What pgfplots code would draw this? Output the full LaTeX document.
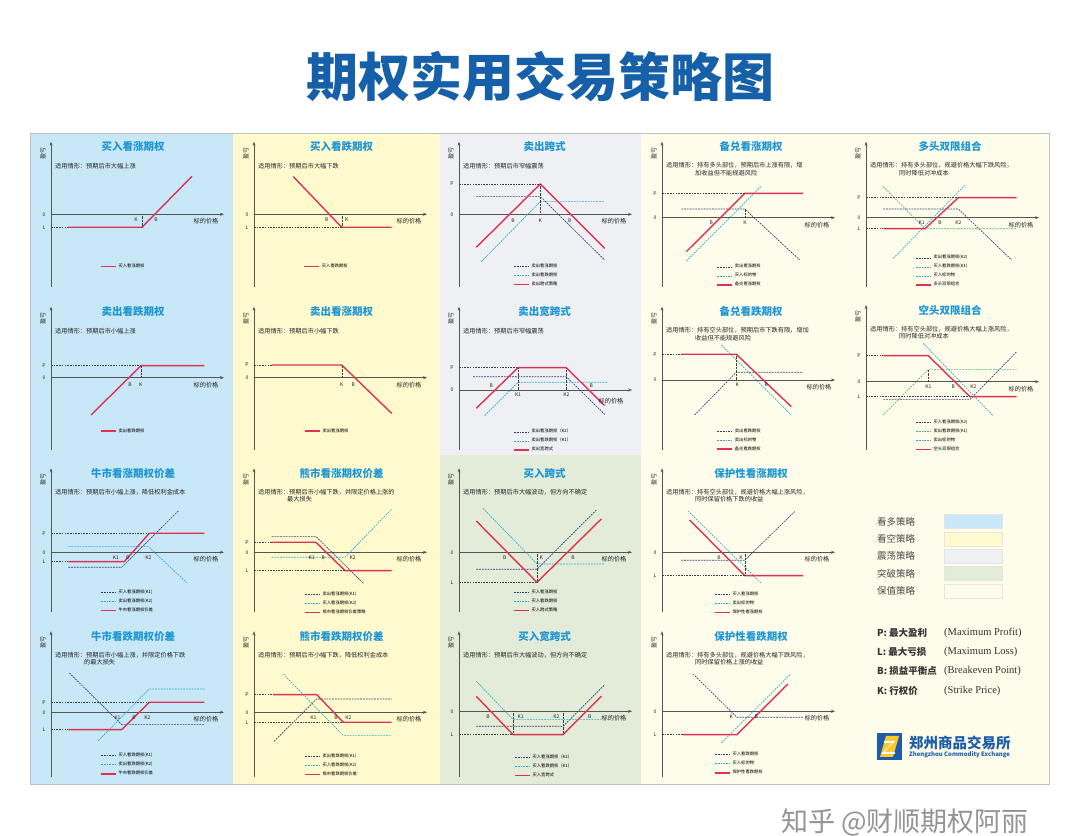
\documentclass[border=0pt]{standalone}
\usepackage{fontspec}
\setmainfont{Noto Sans CJK SC}
\newfontfamily\enserif{Liberation Serif}
\usepackage{pgfplots}
\pgfplotsset{compat=1.18}
\usetikzlibrary{arrows.meta}

\definecolor{bgblue}{RGB}{200,231,247}
\definecolor{bgyellow}{RGB}{255,249,206}
\definecolor{bggray}{RGB}{238,240,244}
\definecolor{bggreen}{RGB}{226,236,216}
\definecolor{bgcream}{RGB}{254,252,234}
\definecolor{ttlc}{RGB}{30,150,212}
\definecolor{mainttl}{RGB}{22,96,170}
\definecolor{redc}{RGB}{222,50,85}
\definecolor{navyc}{RGB}{40,62,120}
\definecolor{lbluec}{RGB}{40,172,212}
\definecolor{greenc}{RGB}{80,175,120}
\definecolor{axc}{RGB}{85,85,85}
\definecolor{logob}{RGB}{28,92,170}
\definecolor{logoy}{RGB}{250,200,40}

\newcommand\ttlfont{\fontsize{10.5}{11}\selectfont\bfseries}
\newcommand\descfont{\fontsize{6.2}{7}\selectfont}
\newcommand\legfont{\fontsize{4.3}{5}\selectfont}
\newcommand\lblfont{\fontsize{5}{6}\selectfont}
\newcommand\ylabfont{\fontsize{6}{6}\selectfont}

\tikzset{
 redl/.style={color=redc, line width=1.4pt, line join=round},
 navyl/.style={color=navyc, line width=0.65pt, dash pattern=on 1.8pt off 1pt},
 bluel/.style={color=lbluec, line width=0.65pt, dash pattern=on 1.8pt off 1pt},
 greenl/.style={color=greenc, line width=0.65pt, dash pattern=on 1.8pt off 1pt},
 refl/.style={color=black!75, line width=0.4pt, dash pattern=on 1.6pt off 1.1pt},
 dotl/.style={color=black!75, line width=0.4pt, dash pattern=on 0.6pt off 0.8pt},
 ttl/.style={font=\ttlfont, text=ttlc, inner sep=0pt},
 desc/.style={font=\descfont, text=black!85, inner sep=0pt, anchor=west},
 ylab/.style={font=\ylabfont, text=black!85, rotate=90, inner sep=0pt},
 xlab/.style={font=\descfont, text=black!85, inner sep=0pt},
 tl/.style={font=\lblfont, text=black!85, inner sep=0pt},
}

\pgfplotsset{
 panel/.style={
  x=1pt, y=1pt, xmin=0, xmax=173, anchor=origin,
  axis lines=middle,
  axis line style={color=axc, line width=0.6pt, -{Stealth[length=4pt,width=3pt]}},
  xtick=\empty, ytick=\empty, clip=false,
  legend cell align=left,
  legend style={draw=none, fill=none, inner sep=0pt, anchor=north west, font=\legfont, row sep=5pt, column sep=2pt, nodes={inner sep=0pt, text height=3pt, text depth=1pt}},
 },
 legend image code/.code={\draw[#1] (0pt,0pt) -- (15pt,0pt);},
}

\newcommand\decor[7]{%
 \node[ttl] at (axis cs:#2,#1-5.3) {#3};
 \node[desc] at (axis cs:4,#1-24) {#4};
 \node[desc] at (axis cs:33,#1-31.3) {#5};
 \node[ylab] at (axis cs:-8,#1-11.7) {盈亏};
 \node[xlab] at (axis cs:#6,#7) {标的价格};
 \node[tl] at (axis cs:-7,0) {0};
}
\newcommand\tk[2]{\node[tl] at (axis cs:#1) {#2};}

\begin{document}
\begin{tikzpicture}[x=1pt,y=1pt]
\fill[white] (0,0) rectangle (1080,836);
% backgrounds
\fill[bgblue] (30,52) rectangle (233,703);
\fill[bgyellow] (233,52) rectangle (440,703);
\fill[bggray] (440,381) rectangle (641,703);
\fill[bggreen] (440,52) rectangle (641,381);
\fill[bgcream] (641,52) rectangle (1049,703);
\draw[black!25, line width=0.8pt] (30,52) rectangle (1049,703);
% main title
\node[font=\fontsize{52}{52}\selectfont\bfseries, text=mainttl] at (540,759) {期权实用交易策略图};

% ---------- Row 1 ----------
\begin{axis}[panel, at={(51pt,621.7pt)}, ymin=-72.4, ymax=72.6, legend style={at={(axis cs:49,-50.3)}}]
\addplot[redl] coordinates {(17,-13)(91,-13)(141,38)}; \addlegendentry{买入看涨期权}
\addplot[refl, forget plot] coordinates {(0,-13)(17,-13)};
\addplot[dotl, forget plot] coordinates {(91,0)(91,-13)};
\decor{72.6}{82}{买入看涨期权}{适用情形：预期后市大幅上涨}{}{155}{-7}
\tk{-7,-13}{L}\tk{85,-5}{K}\tk{105,-5}{B}
\end{axis}

\begin{axis}[panel, at={(254pt,621.7pt)}, ymin=-72.4, ymax=72.6, legend style={at={(axis cs:49.3,-50.3)}}]
\addplot[redl] coordinates {(39.3,37.7)(87.7,-13)(137.7,-13)}; \addlegendentry{买入看跌期权}
\addplot[refl, forget plot] coordinates {(0,-13)(87.7,-13)};
\addplot[dotl, forget plot] coordinates {(87.7,0)(87.7,-13)};
\decor{72.6}{87.7}{买入看跌期权}{适用情形：预期后市大幅下跌}{}{155}{-7}
\tk{-7,-13}{L}\tk{72.7,-5}{B}\tk{92.7,-5}{K}
\end{axis}

\begin{axis}[panel, at={(459pt,621.7pt)}, ymin=-72.4, ymax=72.6, legend style={at={(axis cs:54,-50.3)}}]
\addplot[navyl] coordinates {(17.3,17.7)(81.3,17.7)(145.7,-45.7)}; \addlegendentry{卖出看涨期权}
\addplot[bluel] coordinates {(22.3,-47.3)(81.3,12.7)(145.7,12.7)}; \addlegendentry{卖出看跌期权}
\addplot[redl] coordinates {(17.3,-33)(81.3,30.3)(145.7,-34)}; \addlegendentry{卖出跨式策略}
\addplot[refl, forget plot] coordinates {(0,30.3)(81.3,30.3)};
\addplot[dotl, forget plot] coordinates {(81.3,0)(81.3,30.3)};
\decor{72.6}{85.7}{卖出跨式}{适用情形：预期后市窄幅震荡}{}{155}{-7}
\tk{-7,30.3}{P}\tk{54,-6}{B}\tk{81.3,-6}{K}\tk{110.7,-6}{B}
\end{axis}

\begin{axis}[panel, at={(662pt,618.3pt)}, ymin=-69, ymax=76, legend style={at={(axis cs:54.3,-47)}}]
\addplot[navyl] coordinates {(19.3,8.7)(82.7,8.7)(137.7,-42.3)}; \addlegendentry{卖出看涨期权}
\addplot[bluel] coordinates {(24.3,-43.3)(99.3,31.7)}; \addlegendentry{买入标的物}
\addplot[redl] coordinates {(24.3,-34)(82.7,24.3)(141,24.3)}; \addlegendentry{备兑看涨期权}
\addplot[refl, forget plot] coordinates {(0,24.3)(82.7,24.3)};
\addplot[dotl, forget plot] coordinates {(82.7,0)(82.7,8.7)};
\decor{76}{89}{备兑看涨期权}{适用情形：持有多头部位，预期后市上涨有限，增}{加收益但不能规避风险}{155}{-7}
\tk{-7,24.3}{P}\tk{49.3,-5}{B}\tk{83,-5}{K}
\end{axis}

\begin{axis}[panel, at={(866pt,618.3pt)}, ymin=-69, ymax=76, legend style={at={(axis cs:49,-38)}}]
\addplot[navyl] coordinates {(17.3,8.7)(92.3,8.7)(145.7,-42.3)}; \addlegendentry{卖出看涨期权(K2)}
\addplot[greenl] coordinates {(17.3,31)(59,-11)(150.7,-11)}; \addlegendentry{买入看跌期权(K1)}
\addplot[bluel] coordinates {(27.3,-40.7)(99,32.7)}; \addlegendentry{买入标的物}
\addplot[redl] coordinates {(17.3,-11)(59,-11)(92.3,20)(150.7,20)}; \addlegendentry{多头双限组合}
\addplot[refl, forget plot] coordinates {(0,20)(92.3,20)};
\addplot[refl, forget plot] coordinates {(0,-11)(17.3,-11)};
\decor{76}{84}{多头双限组合}{适用情形：持有多头部位，规避价格大幅下跌风险，}{同时降低对冲成本}{155}{-7}
\tk{-7,20}{P}\tk{-7,-11}{L}\tk{55.7,-5}{K1}\tk{74,-5}{B}\tk{92.3,-5}{K2}
\end{axis}

% ---------- Row 2 ----------
\begin{axis}[panel, at={(51pt,458.3pt)}, ymin=-72.3, ymax=71, legend style={at={(axis cs:49,-51.3)}}]
\addplot[redl] coordinates {(40,-37.3)(90,12)(153.3,12)}; \addlegendentry{卖出看跌期权}
\addplot[refl, forget plot] coordinates {(0,12)(90,12)};
\addplot[dotl, forget plot] coordinates {(90,0)(90,12)};
\decor{71}{82}{卖出看跌期权}{适用情形：预期后市小幅上涨}{}{155}{-7}
\tk{-7,12}{P}\tk{79,-7}{B}\tk{89.7,-7}{K}
\end{axis}

\begin{axis}[panel, at={(254pt,458.3pt)}, ymin=-72.3, ymax=71, legend style={at={(axis cs:50,-51.3)}}]
\addplot[redl] coordinates {(17.7,12.7)(87.7,12.7)(137.7,-35.7)}; \addlegendentry{卖出看涨期权}
\addplot[refl, forget plot] coordinates {(0,12.7)(17.7,12.7)};
\addplot[dotl, forget plot] coordinates {(87.7,0)(87.7,12.7)};
\decor{71}{87.7}{卖出看涨期权}{适用情形：预期后市小幅下跌}{}{155}{-7}
\tk{-7,12.7}{P}\tk{87.7,-7}{K}\tk{99.3,-7}{B}
\end{axis}

\begin{axis}[panel, at={(459pt,446pt)}, ymin=-60, ymax=83.3, legend style={at={(axis cs:54,-39.7)}}]
\addplot[navyl] coordinates {(14,13.3)(107.3,13.3)(145.7,-24.3)}; \addlegendentry{卖出看涨期权（K2）}
\addplot[bluel] coordinates {(25.7,-25.7)(59,7.7)(149,7.7)}; \addlegendentry{卖出看跌期权（K1）}
\addplot[redl] coordinates {(17.3,-18.3)(59,22.3)(107.3,22.3)(145.7,-15.7)}; \addlegendentry{卖出宽跨式}
\addplot[refl, forget plot] coordinates {(0,22.3)(59,22.3)};
\addplot[dotl, forget plot] coordinates {(59,0)(59,22.3)};
\addplot[dotl, forget plot] coordinates {(107.3,0)(107.3,22.3)};
\decor{83.3}{85.7}{卖出宽跨式}{适用情形：预期后市窄幅震荡}{}{152}{-11}
\tk{-7,22.3}{P}\tk{32.3,4}{B}\tk{59,-5}{K1}\tk{107.3,-5}{K2}\tk{132.3,4}{B}
\end{axis}

\begin{axis}[panel, at={(662pt,456pt)}, ymin=-70, ymax=73.3, legend style={at={(axis cs:54.3,-49)}}]
\addplot[navyl] coordinates {(32.7,-35)(74.3,7.7)(141,7.7)}; \addlegendentry{卖出看跌期权}
\addplot[bluel] coordinates {(59.3,35)(129.3,-35)}; \addlegendentry{卖出标的物}
\addplot[redl] coordinates {(19.3,25.7)(74.3,25.7)(129.3,-26.7)}; \addlegendentry{备兑看跌期权}
\addplot[refl, forget plot] coordinates {(0,25.7)(19.3,25.7)};
\addplot[dotl, forget plot] coordinates {(74.3,0)(74.3,25.7)};
\decor{73.3}{89}{备兑看跌期权}{适用情形：持有空头部位，预期后市下跌有限，增加}{收益但不能规避风险}{157}{-7}
\tk{-7,25.7}{P}\tk{75.3,-5}{K}\tk{104.3,-5}{B}
\end{axis}

\begin{axis}[panel, at={(866pt,454.3pt)}, ymin=-68.3, ymax=76.7, legend style={at={(axis cs:49,-38.7)}}]
\addplot[navyl] coordinates {(17.3,-17.7)(104,-17.7)(150.7,30)}; \addlegendentry{买入看涨期权(K2)}
\addplot[greenl] coordinates {(17.3,-33.3)(62.3,12.3)(150.7,12.3)}; \addlegendentry{卖出看跌期权(K1)}
\addplot[bluel] coordinates {(57.3,38.3)(127.3,-34.3)}; \addlegendentry{卖出标的物}
\addplot[redl] coordinates {(17.3,26)(62.3,26)(104,-15)(150.7,-15)}; \addlegendentry{空头双限组合}
\addplot[refl, forget plot] coordinates {(0,26)(17.3,26)};
\addplot[refl, forget plot] coordinates {(0,-15)(104,-15)};
\addplot[dotl, forget plot] coordinates {(62.3,0)(62.3,12.3)};
\decor{76.7}{84}{空头双限组合}{适用情形：持有空头部位，规避价格大幅上涨风险，}{同时降低对冲成本}{155}{-7}
\tk{-7,26}{P}\tk{-7,-15}{L}\tk{62.3,-5}{K1}\tk{87.3,-5}{B}\tk{107.3,-5}{K2}
\end{axis}

% ---------- Row 3 ----------
\begin{axis}[panel, at={(51pt,283.7pt)}, ymin=-59.4, ymax=84, legend style={at={(axis cs:49,-38.3)}}]
\addplot[navyl] coordinates {(17.3,-15)(70.7,-15)(127.3,41.3)}; \addlegendentry{买入看涨期权(K1)}
\addplot[bluel] coordinates {(17.3,5.7)(97.3,5.7)(135.7,-30.3)}; \addlegendentry{卖出看涨期权(K2)}
\addplot[redl] coordinates {(17.3,-9.3)(73.3,-9.3)(98.3,19)(153.3,19)}; \addlegendentry{牛市看涨期权价差}
\addplot[refl, forget plot] coordinates {(0,19)(98.3,19)};
\addplot[refl, forget plot] coordinates {(0,-9.3)(17.3,-9.3)};
\decor{84}{82}{牛市看涨期权价差}{适用情形：预期后市小幅上涨，降低权利金成本}{}{155}{-7}
\tk{-7,19}{P}\tk{-7,-9.3}{L}\tk{65,-5}{K1}\tk{76.7,-5}{B}\tk{97.3,-5}{K2}
\end{axis}

\begin{axis}[panel, at={(254pt,283.7pt)}, ymin=-59.4, ymax=84, legend style={at={(axis cs:50,-40)}}]
\addplot[navyl] coordinates {(17.7,15.7)(62,15.7)(109.3,-31)}; \addlegendentry{卖出看涨期权(K1)}
\addplot[bluel] coordinates {(17.7,-5)(91,-5)(137.7,43.3)}; \addlegendentry{买入看涨期权(K2)}
\addplot[redl] coordinates {(17.7,10)(62,10)(91,-18.3)(137.7,-18.3)}; \addlegendentry{熊市看涨期权价差策略}
\addplot[refl, forget plot] coordinates {(0,10)(17.7,10)};
\addplot[refl, forget plot] coordinates {(0,-18.3)(91,-18.3)};
\decor{84}{87.7}{熊市看涨期权价差}{适用情形：预期后市小幅下跌，并限定价格上涨的}{最大损失}{155}{-7}
\tk{-7,10}{P}\tk{-7,-18.3}{L}\tk{57.7,-5}{K1}\tk{69.3,-5}{B}\tk{98.7,-5}{K2}
\end{axis}

\begin{axis}[panel, at={(459pt,283.7pt)}, ymin=-59.4, ymax=84, legend style={at={(axis cs:54,-38.3)}}]
\addplot[navyl] coordinates {(17.3,-17)(78,-17)(137.3,42.3)}; \addlegendentry{买入看涨期权}
\addplot[bluel] coordinates {(24,44)(78,-11.7)(145.7,-11.7)}; \addlegendentry{买入看跌期权}
\addplot[redl] coordinates {(17.3,31.3)(78,-30)(142.3,33.3)}; \addlegendentry{买入跨式策略}
\addplot[refl, forget plot] coordinates {(0,-30)(78,-30)};
\addplot[dotl, forget plot] coordinates {(78,0)(78,-30)};
\decor{84}{85.7}{买入跨式}{适用情形：预期后市大幅波动，但方向不确定}{}{155}{-7}
\tk{-7,-30}{L}\tk{45.7,-5}{B}\tk{82.3,-5}{K}\tk{114,-5}{B}
\end{axis}

\begin{axis}[panel, at={(662pt,283.7pt)}, ymin=-59.4, ymax=84, legend style={at={(axis cs:52,-40)}}]
\addplot[navyl] coordinates {(19.3,-8)(82.7,-8)(132.7,40.7)}; \addlegendentry{买入看涨期权}
\addplot[bluel] coordinates {(26,41.3)(99.3,-31)}; \addlegendentry{卖出标的物}
\addplot[redl] coordinates {(27.7,32.3)(82.7,-23.3)(141,-23.3)}; \addlegendentry{保护性看涨期权}
\addplot[refl, forget plot] coordinates {(0,-23.3)(82.7,-23.3)};
\addplot[dotl, forget plot] coordinates {(82.7,0)(82.7,-23.3)};
\decor{84}{89}{保护性看涨期权}{适用情形：持有空头部位，规避价格大幅上涨风险，}{同时保留价格下跌的收益}{155}{-7}
\tk{-7,-23.3}{L}\tk{57,-5}{B}\tk{79,-5}{K}
\end{axis}

% ---------- Row 4 ----------
\begin{axis}[panel, at={(51pt,123.7pt)}, ymin=-65, ymax=81, legend style={at={(axis cs:49,-41.3)}}]
\addplot[navyl] coordinates {(18.3,39.3)(70.7,-12.3)(153.3,-12.3)}; \addlegendentry{买入看跌期权(K1)}
\addplot[bluel] coordinates {(47.3,-28.3)(98.3,23.3)(153.3,23.3)}; \addlegendentry{卖出看跌期权(K2)}
\addplot[redl] coordinates {(17.3,-17.3)(70.7,-17.3)(98.3,10)(153.3,10)}; \addlegendentry{牛市看跌期权价差}
\addplot[refl, forget plot] coordinates {(0,10)(98.3,10)};
\addplot[refl, forget plot] coordinates {(0,-17.3)(17.3,-17.3)};
\decor{81}{82}{牛市看跌期权价差}{适用情形：预期后市小幅上涨，并限定价格下跌}{的最大损失}{155}{-7}
\tk{-7,10}{P}\tk{-7,-17.3}{L}\tk{66.3,-5}{K1}\tk{83,-5}{B}\tk{96.3,-5}{K2}
\end{axis}

\begin{axis}[panel, at={(254pt,123.7pt)}, ymin=-65, ymax=81, legend style={at={(axis cs:50,-42)}}]
\addplot[navyl] coordinates {(20,-29)(62.7,13.3)(137.7,13.3)}; \addlegendentry{卖出看跌期权(K1)}
\addplot[bluel] coordinates {(29.3,38.3)(89.3,-23.3)(137.7,-23.3)}; \addlegendentry{买入看跌期权(K2)}
\addplot[redl] coordinates {(19.3,17.7)(62.7,17.7)(89.3,-10)(137.7,-10)}; \addlegendentry{熊市看跌期权价差}
\addplot[refl, forget plot] coordinates {(0,17.7)(19.3,17.7)};
\addplot[refl, forget plot] coordinates {(0,-10)(89.3,-10)};
\decor{81}{87.7}{熊市看跌期权价差}{适用情形：预期后市小幅下跌，降低权利金成本}{}{155}{-7}
\tk{-7,17.7}{P}\tk{-7,-10}{L}\tk{59.3,-5}{K1}\tk{82,-5}{B}\tk{94.3,-5}{K2}
\end{axis}

\begin{axis}[panel, at={(459pt,124.7pt)}, ymin=-66, ymax=80, legend style={at={(axis cs:55,-44)}}]
\addplot[navyl] coordinates {(17.3,-15)(104,-15)(145.7,26.7)}; \addlegendentry{买入看涨期权（K2）}
\addplot[bluel] coordinates {(17.3,30)(54,-8.3)(142.3,-8.3)}; \addlegendentry{买入看跌期权（K1）}
\addplot[redl] coordinates {(17.3,15)(54,-23.3)(104,-23.3)(142.3,15)}; \addlegendentry{买入宽跨式}
\addplot[refl, forget plot] coordinates {(0,-23.3)(54,-23.3)};
\addplot[dotl, forget plot] coordinates {(54,0)(54,-23.3)};
\addplot[dotl, forget plot] coordinates {(104,0)(104,-23.3)};
\decor{80}{85.7}{买入宽跨式}{适用情形：预期后市大幅波动，但方向不确定}{}{155}{-7}
\tk{-7,-23.3}{L}\tk{29,-5}{B}\tk{61.7,-5}{K1}\tk{97.3,-5}{K2}\tk{130.7,-5}{B}
\end{axis}

\begin{axis}[panel, at={(662pt,124.7pt)}, ymin=-66, ymax=80, legend style={at={(axis cs:52,-41.3)}}]
\addplot[navyl] coordinates {(31,37.3)(75,-6)(141,-6)}; \addlegendentry{买入看跌期权}
\addplot[bluel] coordinates {(59.3,-31.7)(128.7,37.3)}; \addlegendentry{买入标的物}
\addplot[redl] coordinates {(21,-23.3)(75,-23.3)(126,27.3)}; \addlegendentry{保护性看跌期权}
\addplot[refl, forget plot] coordinates {(0,-23.3)(21,-23.3)};
\decor{80}{89}{保护性看跌期权}{适用情形：持有多头部位，规避价格大幅下跌风险，}{同时保留价格上涨的收益}{155}{-7}
\tk{-7,-23.3}{L}\tk{69.3,-5}{K}\tk{94.3,-5}{B}
\end{axis}

% ---------- key panel ----------
\foreach \t/\c/\yy in {看多策略/bgblue/314.3, 看空策略/bgyellow/297, 震荡策略/bggray/279.7, 突破策略/bggreen/262.3, 保值策略/bgcream/245}{
 \node[anchor=west, font=\fontsize{9.5}{10}\selectfont, text=black!70, inner sep=0pt] at (877,\yy) {\t};
 \fill[\c] (944,\yy-7) rectangle (1002,\yy+7);
 \draw[black!10, line width=0.4pt] (944,\yy-7) rectangle (1002,\yy+7);
}
\foreach \a/\b/\yy in {P: 最大盈利/(Maximum Profit)/202.7, L: 最大亏损/(Maximum Loss)/184.3, B: 损益平衡点/(Breakeven Point)/165, K: 行权价/(Strike Price)/145}{
 \node[anchor=west, font=\fontsize{9.5}{10}\selectfont\bfseries, text=black!80, inner sep=0pt] at (877,\yy) {\a};
 \node[anchor=west, font=\enserif\fontsize{10.5}{11}\selectfont, text=black!80, inner sep=0pt] at (944,\yy) {\b};
}
% logo
\fill[logob] (877,76) rectangle (902,103);
\fill[logoy] (880,79) -- (893,79) -- (899,100) -- (886,100) -- cycle;
\fill[white] (884,95) -- (895,95) -- (884,84) -- (895,84) -- (895,82) -- (881,82) -- (892,93) -- (884,93) -- cycle;
\node[anchor=west, font=\fontsize{14.5}{15}\selectfont\bfseries, text=logob, inner sep=0pt] at (909,93) {郑州商品交易所};
\node[anchor=west, font=\fontsize{6}{6}\selectfont\bfseries, text=logob, inner sep=0pt] at (909,81) {Zhengzhou Commodity Exchange};
% watermark
\node[font=\fontsize{27}{27}\selectfont, text=black!42, inner sep=0pt] at (905,14) {知乎 @财顺期权阿丽};
\pgfresetboundingbox
\useasboundingbox (0,0) rectangle (1080,836);
\end{tikzpicture}
\end{document}
